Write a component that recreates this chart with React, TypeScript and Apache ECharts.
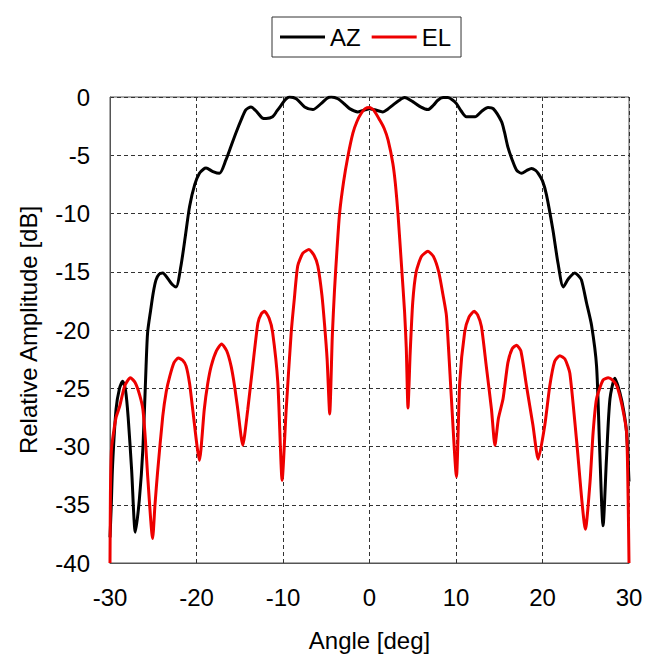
import React, { useEffect, useRef } from "react";
import * as echarts from "echarts";

const xTicks = [-30, -20, -10, 0, 10, 20, 30];
const yTicks = [0, -5, -10, -15, -20, -25, -30, -35, -40];

const azAngles = [
  -30, -29.85, -29.7, -29.3, -28.9, -28.54, -28.2, -27.9, -27.5, -27.07, -26.6, -26.2, -25.83, -25.65, -25.3, -25.0,
  -24.68, -24.3, -23.9, -23.3, -22.8, -22.36, -21.8, -21.3, -20.8, -20.2, -19.66, -19.2, -18.9, -18.1, -17.35, -16.6,
  -16.0, -15.4, -14.8, -14.3, -13.7, -13.0, -12.4, -11.95, -11.2, -10.7, -10.2, -9.7, -9.25, -8.47, -7.5, -6.55,
  -5.6, -4.9, -4.42, -3.66, -2.9, -2.3, -1.35, -0.5, 0, 0.6, 1.55, 2.1, 2.7, 3.4, 4.06, 5.0,
  5.9, 6.76, 7.4, 7.9, 8.5, 9.07, 9.6, 10.05, 10.6, 11.2, 12.2, 13.0, 13.7, 14.3, 15.25, 15.6,
  16.0, 16.5, 17.0, 17.57, 18.2, 18.73, 19.2, 19.5, 20.0, 20.46, 21.2, 21.8, 22.4, 23.0, 23.74, 24.1,
  24.5, 25.1, 25.67, 26.25, 26.6, 27.0, 27.4, 27.8, 28.37, 28.95, 29.4, 29.72, 30,
];
const azValues = [
  -37.8, -35, -31.6, -26.8, -25, -24.4, -25.2, -27.5, -32, -37.35, -34.5, -30.2, -23.1, -20.2, -18.3, -16.8,
  -15.7, -15.2, -15.1, -15.6, -16.1, -16.3, -14.5, -12, -9.4, -7.5, -6.55, -6.2, -6.1, -6.4, -6.55, -5.4,
  -4.2, -3.0, -1.9, -1.1, -0.85, -1.3, -1.8, -1.85, -1.7, -1.2, -0.7, -0.2, 0, -0.15, -0.85, -1.08,
  -0.57, -0.1, 0, -0.15, -0.6, -1.0, -1.28, -1.1, -1.0, -1.1, -1.28, -1.05, -0.7, -0.3, -0.05, -0.4,
  -0.85, -1.08, -0.7, -0.28, -0.05, -0.05, -0.25, -0.57, -1.2, -1.7, -1.7, -1.2, -0.9, -1.0, -2.1, -3.0,
  -4.3, -5.4, -6.27, -6.55, -6.3, -6.13, -6.3, -6.55, -7.2, -8.4, -11.4, -14.3, -16.3, -15.6, -15.1, -15.3,
  -15.7, -17.7, -19.6, -23.1, -30, -36.8, -31, -25.9, -24.15, -25.4, -27, -28.8, -33,
];

const elAngles = [
  -30, -29.95, -29.85, -29.7, -29.3, -28.9, -28.3, -27.65, -27.1, -26.6, -26.2, -25.9, -25.65, -25.07, -24.8, -24.5,
  -23.9, -23.5, -23.1, -22.6, -22.1, -21.6, -21.2, -20.8, -20.44, -19.66, -19.1, -18.7, -18.3, -17.7, -17.1, -16.5,
  -16.0, -15.6, -15.23, -14.65, -14.07, -13.5, -12.9, -12.5, -12.14, -11.6, -11.2, -10.6, -10.1, -9.63, -9.05, -8.7,
  -8.3, -7.7, -7.0, -6.4, -5.97, -5.5, -5.2, -4.9, -4.6, -4.3, -4.04, -3.75, -3.46, -3.0, -2.5, -1.92,
  -1.45, -0.95, -0.5, 0, 0.5, 1.2, 1.7, 2.15, 2.7, 3.0, 3.29, 3.68, 4.06, 4.25, 4.45, 4.7,
  5.0, 5.4, 6.0, 6.76, 7.4, 8.0, 8.5, 8.9, 9.47, 10.05, 10.43, 11.0, 11.5, 12.1, 12.5, 12.94,
  13.5, 14.1, 14.5, 14.9, 15.44, 16.0, 16.5, 17.0, 17.5, 18.15, 18.9, 19.5, 20.26, 20.84, 21.4, 22.0,
  22.6, 23.16, 23.93, 24.97, 25.5, 25.85, 26.25, 27.0, 27.6, 28.1, 28.6, 29.2, 29.72, 29.9, 30,
];
const elValues = [
  -40, -34, -30.5, -29.4, -27.5, -26.6, -24.8, -24.1, -24.5, -25.5, -26.8, -29.5, -32.5, -37.9, -35, -32.2,
  -27.4, -25.3, -24, -22.8, -22.4, -22.6, -23.1, -24.6, -26.8, -31.2, -26.8, -24.6, -23.1, -21.8, -21.2, -21.8,
  -23.1, -24.8, -26.8, -29.9, -26.8, -23.1, -19.4, -18.6, -18.4, -19, -20.2, -24.5, -32.9, -26.8, -20.2, -17.4,
  -14.5, -13.4, -13.1, -13.6, -14.5, -17, -19.5, -22.5, -27.2, -20.5, -16.5, -13, -10, -7.3, -5.1, -3.1,
  -2.1, -1.4, -1.0, -0.9, -1.15, -2.0, -2.7, -3.7, -5.7, -7.5, -10, -14.25, -18.5, -21.5, -26.7, -22,
  -17.6, -15, -13.7, -13.25, -13.7, -15, -17, -18.8, -25.9, -32.6, -24.5, -20.2, -18.9, -18.4, -18.7, -19.7,
  -23.1, -26.8, -29.9, -27.6, -25.9, -22.8, -21.6, -21.3, -21.8, -24.8, -28.2, -31.1, -28.2, -24.8, -22.7, -22.2,
  -22.5, -23.7, -29.4, -37.1, -33, -28.8, -25.9, -24.3, -24.1, -24.3, -24.8, -26.5, -28.8, -34.5, -40,
];

const FONT = "'Liberation Sans', Arial, sans-serif";

export default function App() {
  const ref = useRef<HTMLDivElement>(null);
  useEffect(() => {
    if (!ref.current) return;
    const chart = echarts.init(ref.current, undefined, { renderer: "svg" });
    const az = azAngles.map((a, i) => [a, azValues[i]]);
    const el = elAngles.map((a, i) => [a, elValues[i]]);
    chart.setOption({
      animation: false,
      backgroundColor: "#ffffff",
      textStyle: { fontFamily: FONT, color: "#000" },
      legend: {
        left: 272,
        top: 17,
        padding: [8, 10, 8, 8],
        borderColor: "#333",
        borderWidth: 1,
        icon: "rect",
        itemWidth: 45,
        itemHeight: 3,
        itemGap: 11,
        textStyle: { fontSize: 24, color: "#000", fontFamily: FONT },
        data: ["AZ", "EL"],
      },
      grid: {
        left: 110,
        top: 97,
        right: 27,
        bottom: 93,
        show: true,
        borderColor: "#555",
        borderWidth: 1,
        backgroundColor: "transparent",
      },
      xAxis: {
        type: "value",
        min: xTicks[0],
        max: xTicks[xTicks.length - 1],
        interval: 10,
        name: "Angle [deg]",
        nameLocation: "middle",
        nameGap: 65,
        nameTextStyle: { fontSize: 24, color: "#000", fontFamily: FONT },
        axisLine: { show: true, onZero: false, lineStyle: { color: "#555", width: 1 } },
        axisTick: { show: false },
        axisLabel: { fontSize: 24, color: "#000", margin: 22, fontFamily: FONT },
        splitLine: { show: true, lineStyle: { color: "#333", type: [4, 3], width: 1 } },
      },
      yAxis: {
        type: "value",
        min: yTicks[yTicks.length - 1],
        max: yTicks[0],
        interval: 5,
        name: "Relative Amplitude [dB]",
        nameLocation: "middle",
        nameGap: 70,
        nameTextStyle: { fontSize: 24, color: "#000", fontFamily: FONT },
        axisLine: { show: true, onZero: false, lineStyle: { color: "#555", width: 1 } },
        axisTick: { show: false },
        axisLabel: { fontSize: 24, color: "#000", margin: 20, fontFamily: FONT },
        splitLine: { show: true, lineStyle: { color: "#333", type: [4, 3], width: 1 } },
      },
      series: [
        {
          name: "AZ",
          type: "line",
          data: az,
          symbol: "none",
          smooth: 0.25,
          lineStyle: { color: "#000", width: 3 },
          itemStyle: { color: "#000" },
          z: 3,
        },
        {
          name: "EL",
          type: "line",
          data: el,
          symbol: "none",
          smooth: 0.2,
          lineStyle: { color: "#ee0000", width: 3 },
          itemStyle: { color: "#ee0000" },
          z: 4,
        },
      ],
    });
    return () => chart.dispose();
  }, []);
  return (
    <div
      ref={ref}
      style={{ position: "absolute", left: 0, top: 0, width: 656, height: 657, background: "#fff" }}
    />
  );
}
